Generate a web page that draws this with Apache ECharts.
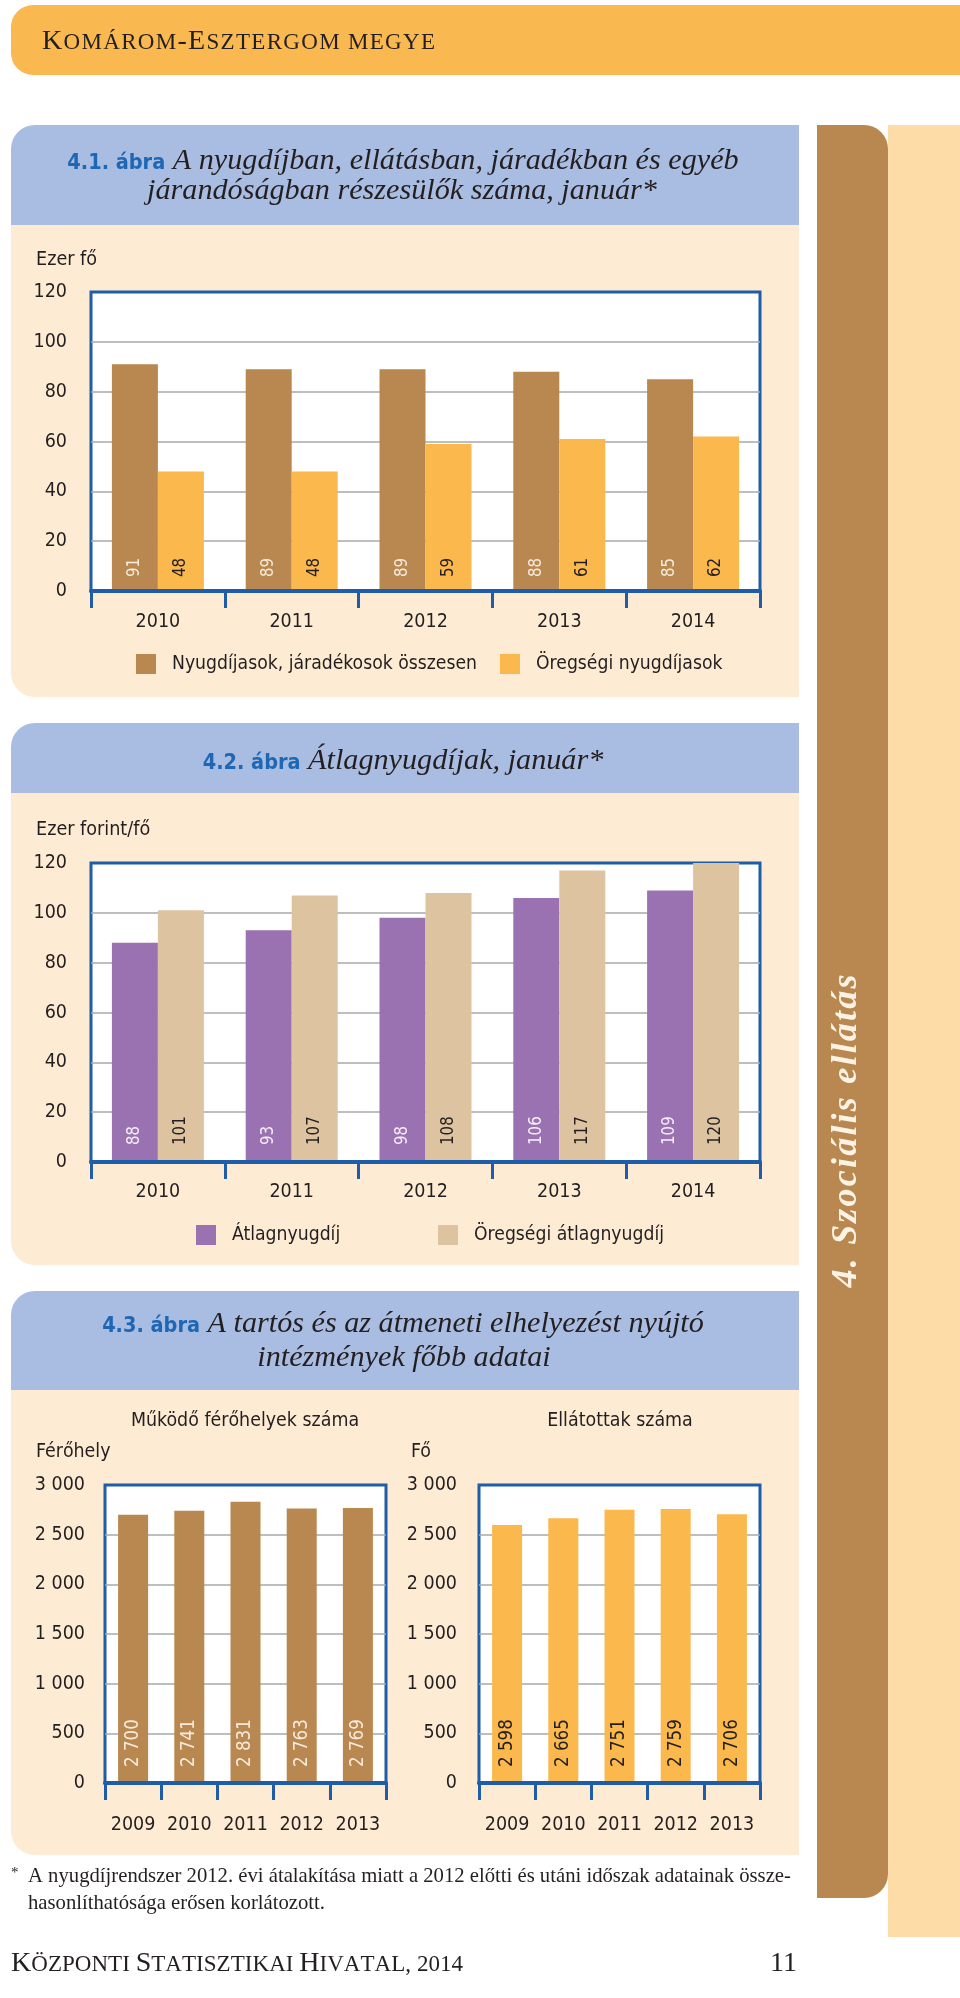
<!DOCTYPE html>
<html><head><meta charset="utf-8">
<script src="https://cdn.jsdelivr.net/npm/echarts/dist/echarts.min.js"></script>
<style>html,body{margin:0;padding:0;background:#fff}#c{width:960px;height:1998px}</style>
</head><body><div id="c"></div>
<script>
// ---- data ----
const years41 = ['2010', '2011', '2012', '2013', '2014'];
const total41 = [91, 89, 89, 88, 85];
const oldAge41 = [48, 48, 59, 61, 62];
const yTicks41 = [0, 20, 40, 60, 80, 100, 120];

const years42 = ['2010', '2011', '2012', '2013', '2014'];
const avg42 = [88, 93, 98, 106, 109];
const oldAvg42 = [101, 107, 108, 117, 120];
const yTicks42 = [0, 20, 40, 60, 80, 100, 120];

const years43 = ['2009', '2010', '2011', '2012', '2013'];
const places43 = [2700, 2741, 2831, 2763, 2769];
const residents43 = [2598, 2665, 2751, 2759, 2706];
const yTicks43 = [0, 500, 1000, 1500, 2000, 2500, 3000];

const names41 = ['Nyugdíjasok, járadékosok összesen', 'Öregségi nyugdíjasok'];
const names42 = ['Átlagnyugdíj', 'Öregségi átlagnyugdíj'];
const names43 = ['Működő férőhelyek száma', 'Ellátottak száma'];

// ---- fonts / measuring ----
const mctx = document.createElement('canvas').getContext('2d');
function hasFont(f) {
  const s = 'abcdefghijklmnopqrstuvwxyz0123456789';
  mctx.font = '40px monospace'; const a = mctx.measureText(s).width;
  mctx.font = '40px "' + f + '", monospace'; const b = mctx.measureText(s).width;
  return a !== b;
}
let SANS = 'Roboto';
for (const f of ['Liberation Sans Narrow', 'DejaVu Sans Condensed', 'Roboto']) { if (hasFont(f)) { SANS = '"' + f + '"'; break; } }
const SERIF = '"Liberation Serif", serif';
const TXT = '#231F20', BLUE = '#1F5DA8';
function mw(font, s) { mctx.font = font; return mctx.measureText(s).width; }
function fit(pre, fam, s, target, bias) {
  const w = mw((pre ? pre + ' ' : '') + '100px ' + fam, s);
  return Math.round(100 * target / w * (bias || 1) * 10) / 10;
}
function midOff(font) {
  mctx.font = font; mctx.textBaseline = 'alphabetic';
  const m = mctx.measureText('Hg'); const a = m.fontBoundingBoxAscent, d = m.fontBoundingBoxDescent;
  const px = parseFloat(font.match(/([\d.]+)px/)[1]);
  return px * (a - d) / (a + d) / 2;
}
const sp = v => String(v).replace(/\B(?=(\d{3})+(?!\d))/g, '\u00a0');

// font sizes fitted to the widths measured on the reference
const AX = fit('', SANS, '2010', 43, 1.04);
const LEG = fit('', SANS, names41[0], 297, 1.03);
const VAL = fit('', SANS, '101', 28, 1.03);
const VAL3 = fit('', SANS, '2\u00a0700', 47, 1.02);
const SUB = fit('', SANS, names43[0], 222, 1.03);
const UNIT = fit('', SANS, 'Ezer forint/fő', 111, 1.03);
const TB = fit('bold', SANS, '4.1. ábra', 98, 1.0);
const TI = fit('italic', SERIF, 'A nyugdíjban, ellátásban, járadékban és egyéb', 567, 1.0);
const FN = fit('', SERIF, 'A nyugdíjrendszer 2012. évi átalakítása miatt a 2012 előtti és utáni időszak adatainak össze-', 763, 1.0);

// ---- axes / series builders ----
function xAx(i, data, margin) {
  return { type: 'category', gridIndex: i, data,
    axisLine: { show: true, onZero: false, lineStyle: { color: BLUE, width: 4 } },
    axisTick: { show: true, length: 17, lineStyle: { color: BLUE, width: 3 } },
    axisLabel: { margin, fontSize: AX, color: TXT, fontFamily: SANS, interval: 0 },
    splitLine: { show: false }, z: 3 };
}
function yAx(i, ticks, margin) {
  return { type: 'value', gridIndex: i, min: ticks[0], max: ticks[ticks.length - 1], interval: ticks[1] - ticks[0],
    axisLine: { show: false }, axisTick: { show: false },
    axisLabel: { margin, fontSize: AX, color: TXT, fontFamily: SANS, formatter: v => sp(v) },
    splitLine: { show: true, showMinLine: false, showMaxLine: false, lineStyle: { color: '#A7A9AC', width: 1.5 } } };
}
function barS(name, i, data, color, labelColor, width, dist, lsize) {
  return { type: 'bar', name, xAxisIndex: i, yAxisIndex: i, data, barWidth: width, barGap: '0%',
    itemStyle: { color },
    label: { show: true, position: 'insideBottom', distance: dist, rotate: 90, align: 'left', verticalAlign: 'middle',
      fontSize: lsize, color: labelColor, fontFamily: SANS, formatter: p => sp(p.value) },
    emphasis: { disabled: true } };
}
function leg(name, left, top) {
  return { data: [name], left, top, itemWidth: 20, itemHeight: 20, icon: 'rect', selectedMode: false, padding: 0,
    textStyle: { fontSize: LEG, color: TXT, fontFamily: SANS, padding: [0, 0, 0, 11] } };
}

// ---- decorative page elements ----
const G = [];
function rect(x, y, w, h, fill, r) { G.push({ type: 'rect', z: -10, silent: true, shape: { x, y, width: w, height: h, r: r || 0 }, style: { fill } }); }
// a run of text parts on one baseline; parts: {t, font, fill, ls}; ls marks letter-spaced parts
function run(parts, x, baseline, align, target, out) {
  out = out || G;
  const items = [];
  parts.forEach(p => {
    if (p.ls !== undefined) { for (const ch of p.t) items.push({ t: ch, font: p.font, fill: p.fill, ls: true }); }
    else items.push({ t: p.t, font: p.font, fill: p.fill, ls: false });
  });
  items.forEach(it => it.w = mw(it.font, it.t));
  const natural = items.reduce((s, it) => s + it.w, 0);
  const nGaps = items.filter(it => it.ls).length - 1;
  let ls = 0;
  if (target && nGaps > 0) ls = Math.max(0, (target - natural) / nGaps);
  const W = natural + ls * Math.max(nGaps, 0);
  let cx = align === 'center' ? x - W / 2 : align === 'right' ? x - W : x;
  items.forEach(it => {
    out.push({ type: 'text', z: 100, silent: true, x: cx, y: baseline - midOff(it.font),
      style: { text: it.t, font: it.font, fill: it.fill || TXT, align: 'left', verticalAlign: 'middle' } });
    cx += it.w + (it.ls ? ls : 0);
  });
}

const PANEL = '#FDEBD3', TITLEBG = '#A9BCE1';
rect(11, 5, 960, 70, '#FAB850', [22, 0, 0, 22]);
rect(888, 125, 80, 1812, '#FDDCA8');
rect(817, 125, 71, 1773, '#B98750', [0, 24, 24, 0]);
rect(11, 125, 788, 100, TITLEBG, [24, 0, 0, 0]);
rect(11, 225, 788, 472, PANEL, [0, 0, 0, 24]);
rect(11, 723, 788, 70, TITLEBG, [24, 0, 0, 0]);
rect(11, 793, 788, 472, PANEL, [0, 0, 0, 24]);
rect(11, 1291, 788, 99, TITLEBG, [24, 0, 0, 0]);
rect(11, 1390, 788, 465, PANEL, [0, 0, 0, 24]);

// small caps header and footer
const capB = '28px ' + SERIF, capS = '23px ' + SERIF;
run([{ t: 'K', font: capB, ls: 1 }, { t: 'OMÁROM', font: capS, ls: 1 }, { t: '-E', font: capB, ls: 1 },
     { t: 'SZTERGOM MEGYE', font: capS, ls: 1 }], 42, 50, 'left', 393);
run([{ t: 'K', font: capB, ls: 1 }, { t: 'ÖZPONTI ', font: capS, ls: 1 }, { t: 'S', font: capB, ls: 1 },
     { t: 'TATISZTIKAI ', font: capS, ls: 1 }, { t: 'H', font: capB, ls: 1 }, { t: 'IVATAL, 2014', font: capS, ls: 1 }],
    11, 1972, 'left', 452);
run([{ t: '11', font: '28px ' + SERIF }], 797, 1972, 'right');

// side tab (rotated)
const tab = { type: 'group', x: 846, y: 1131, rotation: Math.PI / 2, z: 100, children: [] };
run([{ t: '4. Szociális ellátás', font: 'italic bold 36px ' + SERIF, fill: '#FDF3E4', ls: 1 }], 0, 12, 'center', 313, tab.children);
G.push(tab);

// figure titles
const tb = 'bold ' + TB + 'px ' + SANS, ti = 'italic ' + TI + 'px ' + SERIF, TBLUE = '#1E67B4';
run([{ t: '4.1. ábra', font: tb, fill: TBLUE }, { t: ' A nyugdíjban, ellátásban, járadékban és egyéb', font: ti }], 403, 170, 'center');
run([{ t: 'járandóságban részesülők száma, január*', font: ti }], 402, 200, 'center');
run([{ t: '4.2. ábra', font: tb, fill: TBLUE }, { t: ' Átlagnyugdíjak, január*', font: ti }], 403, 770, 'center');
run([{ t: '4.3. ábra', font: tb, fill: TBLUE }, { t: ' A tartós és az átmeneti elhelyezést nyújtó', font: ti }], 403, 1333, 'center');
run([{ t: 'intézmények főbb adatai', font: ti }], 404, 1367, 'center');

// axis unit labels and sub-titles
const uf = UNIT + 'px ' + SANS, sf = SUB + 'px ' + SANS;
run([{ t: 'Ezer fő', font: uf }], 36, 265, 'left');
run([{ t: 'Ezer forint/fő', font: uf }], 36, 835, 'left');
run([{ t: names43[0], font: sf }], 245, 1426, 'center');
run([{ t: names43[1], font: sf }], 620, 1426, 'center');
run([{ t: 'Férőhely', font: sf }], 36, 1457, 'left');
run([{ t: 'Fő', font: sf }], 411, 1457, 'left');

// footnote
const fnf = FN + 'px ' + SERIF;
run([{ t: '*', font: '15px ' + SERIF }], 11, 1878, 'left');
run([{ t: 'A nyugdíjrendszer 2012. évi átalakítása miatt a 2012 előtti és utáni időszak adatainak össze-', font: fnf }], 28, 1883, 'left');
run([{ t: 'hasonlíthatósága erősen korlátozott.', font: fnf }], 28, 1910, 'left');

// ---- chart ----
const gridStyle = { show: true, backgroundColor: '#FFFFFF', borderColor: BLUE, borderWidth: 3, containLabel: false };
const option = {
  animation: false,
  backgroundColor: '#FFFFFF',
  grid: [
    Object.assign({ left: 91, top: 292, width: 669, height: 299 }, gridStyle),
    Object.assign({ left: 91, top: 863, width: 669, height: 299 }, gridStyle),
    Object.assign({ left: 105, top: 1485, width: 281, height: 298 }, gridStyle),
    Object.assign({ left: 479, top: 1485, width: 281, height: 298 }, gridStyle)
  ],
  xAxis: [xAx(0, years41, 21), xAx(1, years42, 20), xAx(2, years43, 32), xAx(3, years43, 32)],
  yAxis: [yAx(0, yTicks41, 24), yAx(1, yTicks42, 24), yAx(2, yTicks43, 20), yAx(3, yTicks43, 22)],
  legend: [leg(names41[0], 136, 654), leg(names41[1], 500, 654), leg(names42[0], 196, 1225), leg(names42[1], 438, 1225)],
  series: [
    barS(names41[0], 0, total41, '#B98750', '#F7EBDC', 46, 14, VAL),
    barS(names41[1], 0, oldAge41, '#FBB84D', TXT, 46, 14, VAL),
    barS(names42[0], 1, avg42, '#9A72B1', '#F5EEF8', 46, 17, VAL),
    barS(names42[1], 1, oldAvg42, '#DDC3A0', TXT, 46, 17, VAL),
    barS(names43[0], 2, places43, '#B98750', '#F7EBDC', 30, 16, VAL3),
    barS(names43[1], 3, residents43, '#FBB84D', TXT, 30, 16, VAL3)
  ],
  graphic: { elements: G }
};
const chart = echarts.init(document.getElementById('c'), null, { renderer: 'canvas', width: 960, height: 1998 });
chart.setOption(option);
</script></body></html>
